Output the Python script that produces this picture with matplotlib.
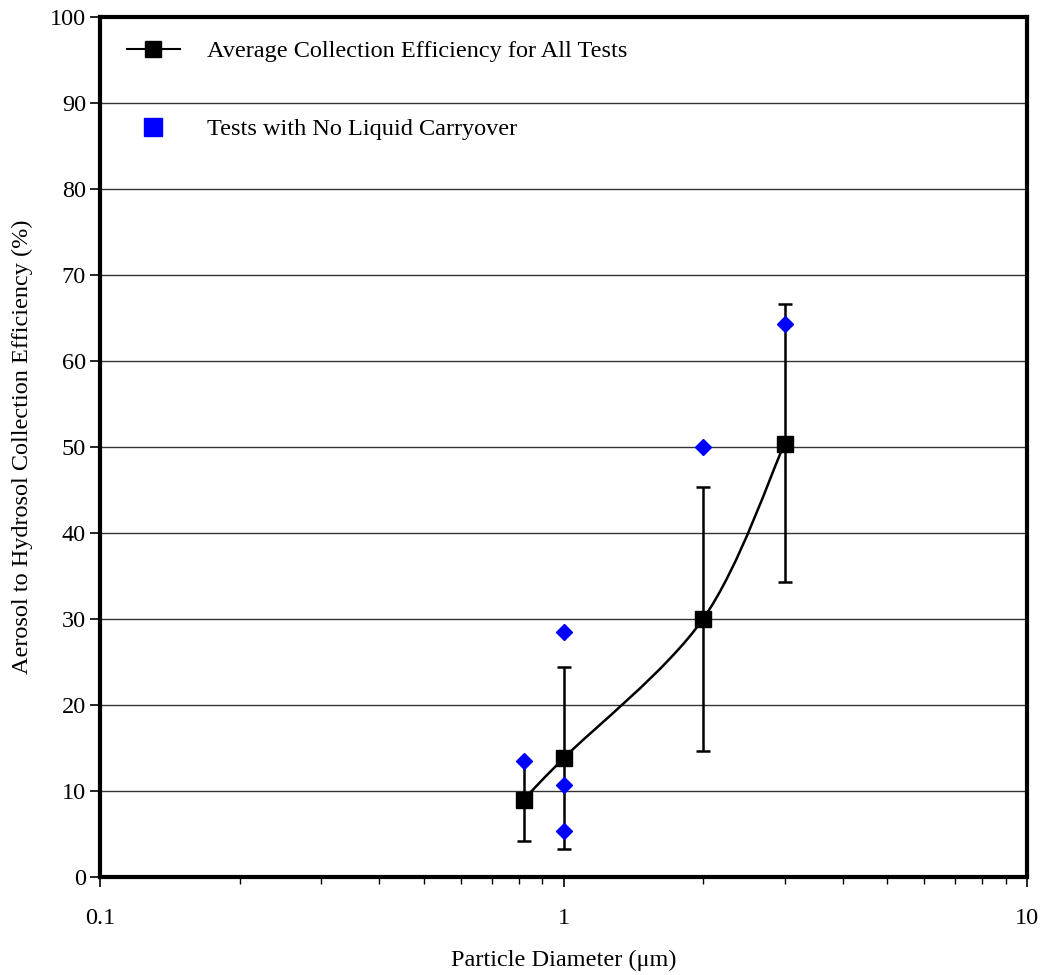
import numpy as np
import matplotlib.pyplot as plt
from matplotlib.path import Path
from matplotlib.patches import PathPatch
from matplotlib.lines import Line2D
from matplotlib.ticker import FixedLocator, NullFormatter

plt.rcParams['font.family'] = ['Liberation Serif', 'DejaVu Serif']

# average collection efficiency for all tests
avg_d = [0.82, 1.0, 2.0, 3.0]
avg_eff = [9.0, 13.8, 30.0, 50.4]
err_low = [4.2, 3.2, 14.6, 34.3]
err_high = [13.5, 24.4, 45.4, 66.6]

# tests with no liquid carryover
nlc_d = [0.82, 1.0, 1.0, 1.0, 2.0, 3.0]
nlc_eff = [13.5, 28.5, 10.7, 5.4, 50.0, 64.3]

fig = plt.figure(figsize=(10.43, 9.75), dpi=100)
ax = fig.add_axes([100 / 1043, 98 / 975, 927 / 1043, 860 / 975])

ax.set_xscale('log')
ax.set_xlim(0.1, 10)
ax.set_ylim(0, 100)

for y in range(10, 100, 10):
    ax.axhline(y, color='#333333', lw=1.0, zorder=1)

# smoothed line (Excel style), bezier built in plot-normalized space
W, H = 927.0, 860.0
u = (np.log10(avg_d) + 1) / 2 * W
v = np.array(avg_eff) / 100 * H
pts = np.column_stack([u, v])
n = len(pts)
verts = [pts[0]]
codes = [Path.MOVETO]
for i in range(n - 1):
    p0 = pts[i - 1] if i > 0 else pts[i]
    p1 = pts[i]
    p2 = pts[i + 1]
    p3 = pts[i + 2] if i + 2 < n else pts[i + 1]
    c1 = p1 + (p2 - p0) / 6
    c2 = p2 - (p3 - p1) / 6
    verts += [c1, c2, p2]
    codes += [Path.CURVE4] * 3
verts = np.array(verts)
verts = np.column_stack([10 ** (verts[:, 0] / W * 2 - 1), verts[:, 1] / H * 100])
ax.add_patch(PathPatch(Path(verts, codes), fill=False, lw=1.8, color='black', zorder=3))

yerr = [np.array(avg_eff) - np.array(err_low), np.array(err_high) - np.array(avg_eff)]
ax.errorbar(avg_d, avg_eff, yerr=yerr, fmt='none', ecolor='black', elinewidth=1.8,
            capsize=5, capthick=1.8, zorder=4)
ax.plot(nlc_d, nlc_eff, 'D', color='#0000ff', ms=8, mec='#0000ff', ls='none', zorder=5)
ax.plot(avg_d, avg_eff, 's', color='black', ms=11, ls='none', zorder=6)

for s in ax.spines.values():
    s.set_linewidth(3)
    s.set_zorder(10)

ax.set_yticks(range(0, 101, 10))
ax.xaxis.set_major_locator(FixedLocator([0.1, 1, 10]))
ax.set_xticklabels(['0.1', '1', '10'])
minors = [k * 10.0 ** e for e in (-1, 0) for k in range(2, 10)]
ax.xaxis.set_minor_locator(FixedLocator(minors))
ax.xaxis.set_minor_formatter(NullFormatter())
ax.tick_params(axis='both', which='major', direction='out', length=7, width=1.2,
               labelsize=17.5, colors='black')
ax.tick_params(axis='x', which='minor', direction='out', length=5, width=1.0)
ax.tick_params(axis='x', which='major', pad=15)
ax.tick_params(axis='y', which='major', pad=3)

ax.set_xlabel('Particle Diameter (\u03bcm)', fontsize=17.5, labelpad=15)
ax.set_ylabel('Aerosol to Hydrosol Collection Efficiency (%)', fontsize=17.5, labelpad=12)

h1 = Line2D([], [], color='black', lw=1.5, marker='s', ms=11)
h2 = Line2D([], [], color='#0000ff', lw=0, marker='s', ms=13)
leg = ax.legend([h1, h2], ['Average Collection Efficiency for All Tests',
                           'Tests with No Liquid Carryover'],
                loc='upper left', bbox_to_anchor=(0.0, 1.004), frameon=False,
                fontsize=17.5, handlelength=2.2, handletextpad=1.1,
                labelspacing=2.3, borderaxespad=0.7)
leg.set_zorder(8)

fig.savefig('out.png', dpi=100)
